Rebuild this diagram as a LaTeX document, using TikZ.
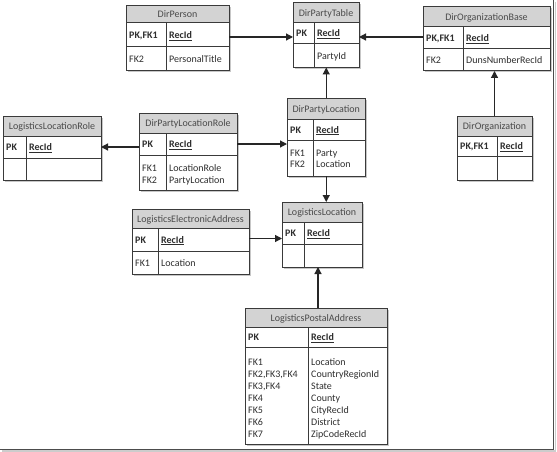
\documentclass[tikz,border=0pt]{standalone}
\usepackage{fontspec}
\setmainfont{Carlito}
\usetikzlibrary{fit,arrows.meta}
\definecolor{hdr}{HTML}{D3D3D3}
\definecolor{ln}{HTML}{3A3A3A}
\definecolor{tx}{HTML}{2E2E2E}
\definecolor{htx}{HTML}{4A4A4A}
\tikzset{
  tline/.style={draw=ln, line width=1pt},
  cellbox/.style={draw=ln, line width=1pt, inner sep=0pt, outer sep=0pt},
  hdrtext/.style={text=htx, font=\fontsize{10}{12}\selectfont, inner sep=0pt, anchor=base},
  celltext/.style={text=tx, font=\fontsize{10}{12}\selectfont, inner sep=0pt, anchor=base west, xshift=3pt},
  conn/.style={draw=black!85, line width=1.2pt, -{Triangle[length=7pt,width=7pt]}},
}
% #1 name #2 title #3 x1 #4 y1 #5 x2 #6 header bottom #7 key row bottom #8 y2 #9 divider x
\newcommand\ertbl[9]{%
  \fill[black!22] (#3+1.5,#4+1.5) rectangle (#5+1.5,#8+1.5);
  \fill[white] (#3,#4) rectangle (#5,#8);
  \fill[hdr] (#3,#4) rectangle (#5,#6);
  \node[cellbox, fit={(#3,#4) (#5,#6)}] (#1-h) {};
  \node[hdrtext, yshift=-3.5pt] (#1-ht) at (#1-h.center) {#2};
  \node[cellbox, fit={(#3,#6) (#5,#7)}] (#1-k) {};
  \node[cellbox, fit={(#3,#7) (#5,#8)}] (#1-f) {};
  \draw[tline] (#9,#6) -- (#9,#8);
  \node[cellbox, fit={(#3,#4) (#5,#8)}] (#1) {};
  \coordinate (#1-d) at (#9,#6);
  \coordinate (#1-e) at (#9,#7);
}
\newcommand\pkrow[3]{% #1 name #2 key #3 field
  \node[celltext, yshift=-3.5pt] (#1-kk) at (#1-k.west) {\textbf{#2}};
  \node[celltext, yshift=-3.5pt] (#1-kf) at (#1-k.west -| #1-d) {\textbf{\underline{#3}}};
}
\begin{document}
\begin{tikzpicture}[x=1pt,y=-1pt]
\useasboundingbox (0,0) rectangle (557,452);
\fill[white] (0,0) rectangle (557,452);
% frame
\draw[black!20, line width=1.5pt] (555.5,2) -- (555.5,451) -- (2,451);
\draw[black!70, line width=1.4pt] (553.5,0) -- (553.5,449.5) -- (0,449.5);

% tables
\ertbl{dp}{DirPerson}{126}{6}{229}{23}{47}{71}{166}
\pkrow{dp}{PK,FK1}{RecId}
\node[celltext, yshift=-3.5pt] (dp-f1) at (dp-f.west) {FK2};
\node[celltext, yshift=-3.5pt] (dp-f2) at (dp-f.west -| dp-d) {PersonalTitle};

\ertbl{dpt}{DirPartyTable}{293}{3}{359}{23}{44}{67.5}{314}
\pkrow{dpt}{PK}{RecId}
\node[celltext, yshift=-3.5pt] (dpt-f2) at (dpt-f.west -| dpt-d) {PartyId};

\ertbl{dob}{DirOrganizationBase}{423}{7}{550}{27}{49}{71}{463}
\pkrow{dob}{PK,FK1}{RecId}
\node[celltext, yshift=-3.5pt] (dob-f1) at (dob-f.west) {FK2};
\node[celltext, yshift=-3.5pt] (dob-f2) at (dob-f.west -| dob-d) {DunsNumberRecId};

\ertbl{do}{DirOrganization}{457}{116}{532}{136}{156}{180}{497}
\pkrow{do}{PK,FK1}{RecId}

\ertbl{llr}{LogisticsLocationRole}{3}{116}{101}{136.5}{158}{180}{26}
\pkrow{llr}{PK}{RecId}

\ertbl{dplr}{DirPartyLocationRole}{139}{113}{237}{133}{155}{190}{166}
\pkrow{dplr}{PK}{RecId}
\node[celltext, yshift=-16.6pt] (dplr-f1) at (dplr-f.north west) {FK1};
\node[celltext, yshift=-28.2pt] (dplr-f2) at (dplr-f.north west) {FK2};
\node[celltext, yshift=-16.6pt] (dplr-f3) at (dplr-e) {LocationRole};
\node[celltext, yshift=-28.2pt] (dplr-f4) at (dplr-e) {PartyLocation};

\ertbl{dpl}{DirPartyLocation}{287}{98}{365.5}{119}{140}{176}{313}
\pkrow{dpl}{PK}{RecId}
\node[celltext, yshift=-16.4pt] (dpl-f1) at (dpl-f.north west) {FK1};
\node[celltext, yshift=-27.6pt] (dpl-f2) at (dpl-f.north west) {FK2};
\node[celltext, yshift=-16.4pt] (dpl-f3) at (dpl-e) {Party};
\node[celltext, yshift=-27.6pt] (dpl-f4) at (dpl-e) {Location};

\ertbl{lea}{LogisticsElectronicAddress}{132}{209}{249}{228}{251}{274}{158}
\pkrow{lea}{PK}{RecId}
\node[celltext, yshift=-3.5pt] (lea-f1) at (lea-f.west) {FK1};
\node[celltext, yshift=-3.5pt] (lea-f2) at (lea-f.west -| lea-d) {Location};

\ertbl{ll}{LogisticsLocation}{282}{202}{362}{222}{244}{267}{304}
\pkrow{ll}{PK}{RecId}

\ertbl{lpa}{LogisticsPostalAddress}{245}{308}{387}{327}{347}{444}{308}
\pkrow{lpa}{PK}{RecId}
\foreach \k/\f [count=\i from 0] in {FK1/Location, {FK2,FK3,FK4}/CountryRegionId, {FK3,FK4}/State, FK4/County, FK5/CityRecId, FK6/District, FK7/ZipCodeRecId}{
  \node[celltext, yshift=-18.3pt-12.1pt*\i] (lpa-a\i) at (lpa-f.north west) {\k};
  \node[celltext, yshift=-18.3pt-12.1pt*\i] (lpa-b\i) at (lpa-e) {\f};
}

% connectors
\coordinate (p1) at ([yshift=-2pt]dp-k.east);
\draw[conn] (p1) -- (p1 -| dpt.west);
\coordinate (p2) at ([yshift=1pt]dob-k.west);
\draw[conn] (p2) -- (p2 -| dpt.east);
\draw[conn] (do.north) -- (do.north |- dob.south);
\draw[conn] (dpl.north) -- (dpl.north |- dpt.south);
\coordinate (p5) at ([yshift=-3pt]dplr-k.west);
\draw[conn] (p5) -- (p5 -| llr.east);
\draw[conn] (dplr-k.east) -- (dplr-k.east -| dpl.west);
\draw[conn] (dpl.south) -- (dpl.south |- ll.north);
\coordinate (p8) at ([yshift=1pt]lea-k.east);
\draw[conn] (p8) -- (p8 -| ll.west);
\coordinate (p9) at ([xshift=-4pt]ll.south);
\draw[conn] (p9 |- lpa.north) -- (p9);
\end{tikzpicture}
\end{document}
